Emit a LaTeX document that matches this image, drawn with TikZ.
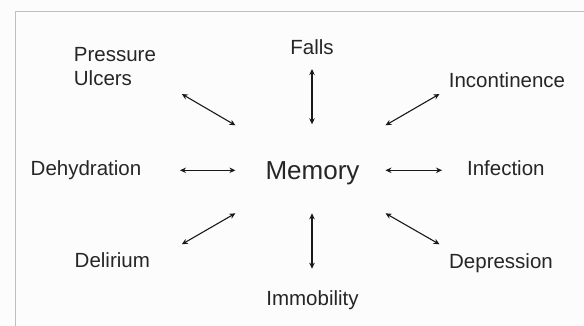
\documentclass[tikz,border=0pt]{standalone}
\usepackage{fontspec}
\setmainfont{Liberation Sans}
\usetikzlibrary{arrows.meta}
\begin{document}
\begin{tikzpicture}[x=1pt,y=-1pt,
  lbl/.style={inner sep=0pt, font=\fontsize{20.5}{24}\selectfont, text=black!85},
  dbl/.style={line width=1.1pt, black!90, {Stealth[length=6pt,width=5.5pt]}-{Stealth[length=6pt,width=5.5pt]}}]
\useasboundingbox (0,0) rectangle (584,326);
\fill[white!99!black] (0,0) rectangle (584,326);
\draw[black!25, line width=0.8pt] (584,11.5) -- (15,11.5) -- (15,326);
% labels
\node[lbl, font=\fontsize{26}{30}\selectfont, anchor=base] (mem) at (312.5,180) {Memory};
\node[lbl, anchor=base] (falls) at (312,54.3) {Falls};
\node[lbl, anchor=base] (immo) at (312.5,305) {Immobility};
\node[lbl, anchor=base] (dehy) at (86,175.7) {Dehydration};
\node[lbl, anchor=base] (infe) at (505.8,176) {Infection};
\node[lbl, anchor=base] (inco) at (507,87.3) {Incontinence};
\node[lbl, anchor=base] (depr) at (501,268.7) {Depression};
\node[lbl, anchor=base west] (deli) at (74.5,267.3) {Delirium};
\node[lbl, anchor=west, align=left] (pres) at (73.7,66.2) {Pressure\\Ulcers};
% arrow end points
\coordinate (a1) at (181.8,94);   \coordinate (b1) at (235.4,125.3);
\coordinate (a2) at (312,69);     \coordinate (b2) at (312,124.3);
\coordinate (a3) at (439.5,94);   \coordinate (b3) at (385.5,125.3);
\coordinate (a4) at (180,170.3);  \coordinate (b4) at (235.4,170.3);
\coordinate (a5) at (442,170.3);  \coordinate (b5) at (385.5,170.3);
\coordinate (a6) at (181.8,244.3);\coordinate (b6) at (235.4,213.3);
\coordinate (a7) at (312,268.7);  \coordinate (b7) at (312,213.3);
\coordinate (a8) at (439.5,244.3);\coordinate (b8) at (385.5,213.3);
\foreach \i in {1,...,8} {\draw[dbl] (a\i) -- (b\i);}
\end{tikzpicture}
\end{document}
